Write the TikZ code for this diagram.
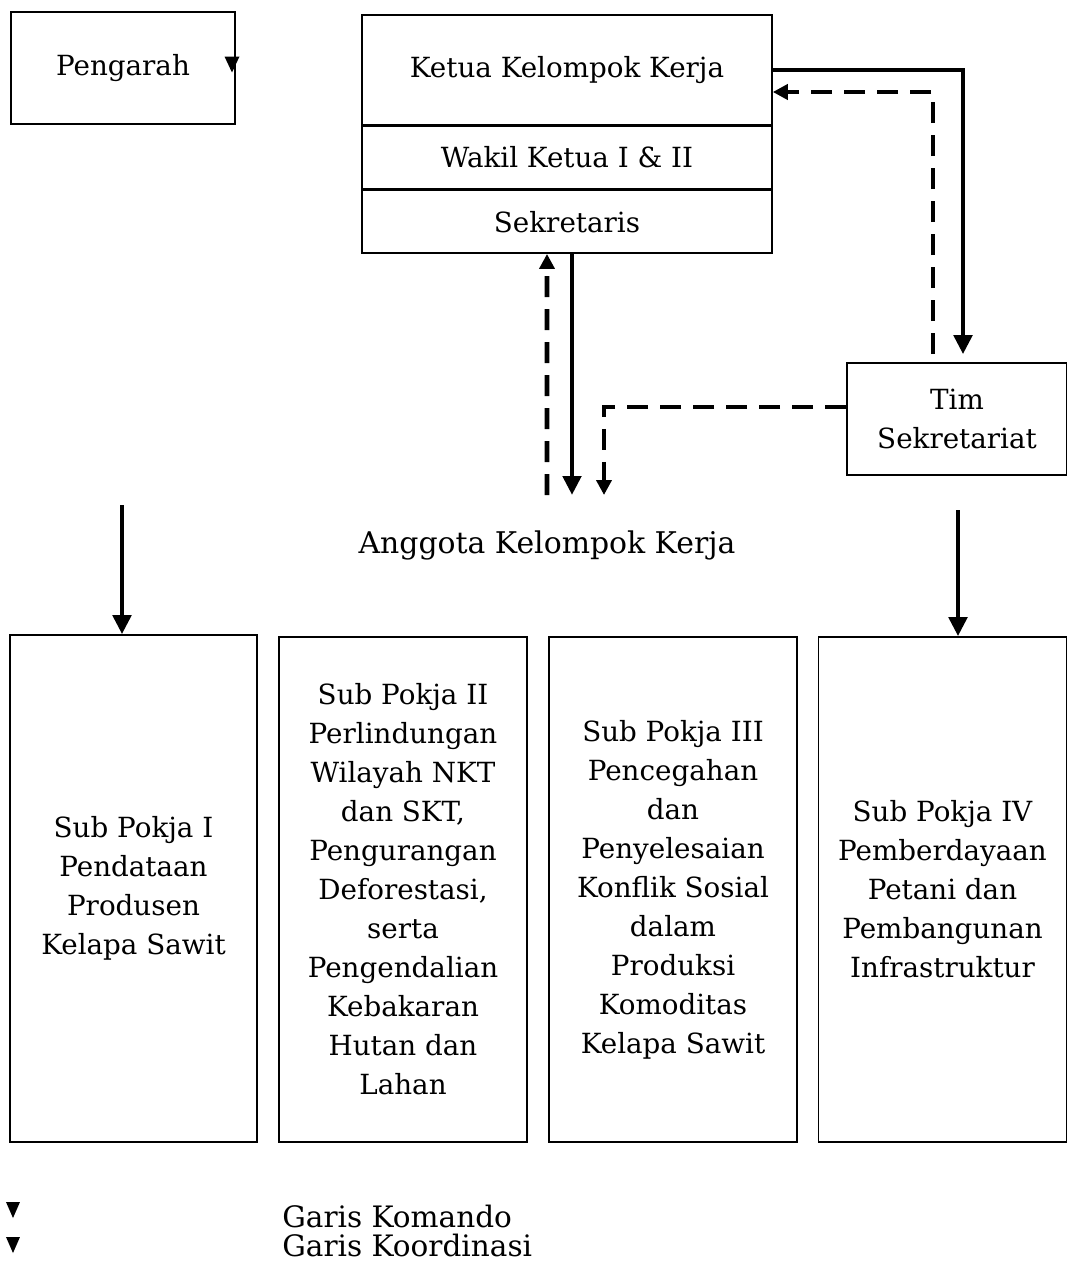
\documentclass[tikz,border=0pt]{standalone}
\usepackage{fontspec}
\setmainfont{DejaVu Serif}
\usetikzlibrary{arrows.meta}
\tikzstyle{box} = [rectangle, draw=black, line width=0.9pt, align=center, text centered, inner sep=2pt, font=\fontsize{15.8}{22.2}\selectfont]
\tikzstyle{komando} = [line width=2.8pt, -{Triangle[length=0.38cm,width=0.36cm]}]
\tikzstyle{koordinasi} = [line width=2.8pt, dash pattern=on 0.42cm off 0.24cm, -{Triangle[length=0.3cm,width=0.3cm]}]
\tikzstyle{legend} = [anchor=base west, inner sep=0pt, font=\fontsize{16.8}{20}\selectfont]

\begin{document}
\begin{tikzpicture}
    \useasboundingbox (0,0) rectangle (21.34,-25.34);

    \node (pengarah) [box, minimum width=4.48cm, minimum height=2.24cm] at (2.46,-1.36) {Pengarah};
    \node (ketua) [box, minimum width=8.2cm, minimum height=2.2cm] at (11.34,-1.4) {Ketua Kelompok Kerja};
    \node (wakil) [box, minimum width=8.2cm, minimum height=1.24cm, anchor=north] at (ketua.south) {Wakil Ketua I \& II};
    \node (sekretaris) [box, minimum width=8.2cm, minimum height=1.26cm, anchor=north] at (wakil.south) {Sekretaris};
    \node (tim) [box, minimum width=4.4cm, minimum height=2.24cm] at (19.14,-8.38) {Tim\\Sekretariat};
    \node (anggota) [font=\fontsize{17}{20}\selectfont] at (10.94,-10.9) {Anggota Kelompok Kerja};

    \coordinate (a_up) at (10.94,-9.9);
    \coordinate (a_down) at (11.44,-9.9);
    \coordinate (a_tim) at (12.08,-9.9);
    \coordinate (l_top) at (2.44,-10.1);
    \coordinate (r_top) at (19.16,-10.2);

    \node (sub1) [box, minimum width=4.94cm, minimum height=10.14cm] at (2.67,-17.77)
    {Sub Pokja I\\Pendataan\\Produsen\\Kelapa Sawit};
    \node (sub2) [box, minimum width=4.96cm, minimum height=10.1cm] at (8.06,-17.79)
    {Sub Pokja II\\Perlindungan\\Wilayah NKT\\dan SKT,\\Pengurangan\\Deforestasi,\\serta\\Pengendalian\\Kebakaran\\Hutan dan\\Lahan};
    \node (sub3) [box, minimum width=4.96cm, minimum height=10.1cm] at (13.46,-17.79)
    {Sub Pokja III\\Pencegahan\\dan\\Penyelesaian\\Konflik Sosial\\dalam\\Produksi\\Komoditas\\Kelapa Sawit};
    \node (sub4) [box, minimum width=4.96cm, minimum height=10.1cm] at (18.85,-17.79)
    {Sub Pokja IV\\Pemberdayaan\\Petani dan\\Pembangunan\\Infrastruktur};

    % garis komando dan koordinasi
    \draw [komando, shorten >=0.16cm] (ketua.east) -| ([xshift=0.12cm]tim.north);
    \draw [koordinasi, shorten <=0.16cm] ([xshift=-0.48cm]tim.north) |- ([yshift=-0.44cm]ketua.east);
    \draw [komando] ([xshift=0.1cm]sekretaris.south) -- (a_down);
    \draw [koordinasi] (a_up) -- ([xshift=-0.4cm]sekretaris.south);
    \draw [koordinasi] ([yshift=0.24cm]tim.west) -| (a_tim);
    \draw [komando] (l_top) -- (sub1.north -| l_top);
    \draw [komando] (r_top) -- (sub4.north -| r_top);

    \fill (4.49,-1.13) -- (4.79,-1.13) -- (4.64,-1.45) -- cycle;

    % keterangan
    \fill (0.12,-24.04) -- (0.40,-24.04) -- (0.26,-24.36) -- cycle;
    \fill (0.12,-24.74) -- (0.40,-24.74) -- (0.26,-25.06) -- cycle;
    \node (komando_lbl) [legend] at (5.64,-24.55) {Garis Komando};
    \node (koordinasi_lbl) [legend] at (5.64,-25.13) {Garis Koordinasi};
\end{tikzpicture}
\end{document}
